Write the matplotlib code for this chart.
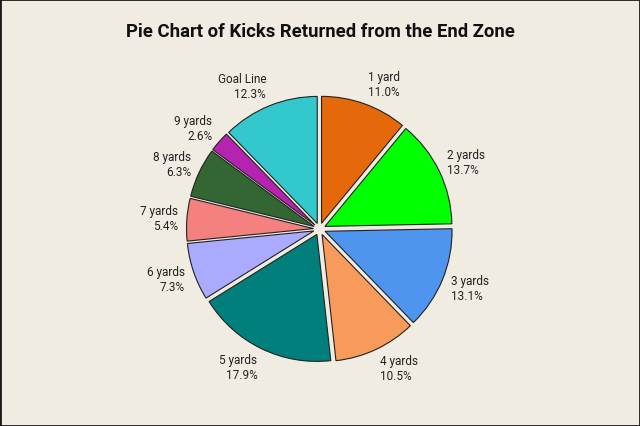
import numpy as np
import matplotlib.pyplot as plt
from matplotlib.patches import Rectangle

labels = ['1 yard', '2 yards', '3 yards', '4 yards', '5 yards',
          '6 yards', '7 yards', '8 yards', '9 yards', 'Goal Line']
pct = [11.0, 13.7, 13.1, 10.5, 17.9, 7.3, 5.4, 6.3, 2.6, 12.3]
colors = ['#E5680A', '#00FF00', '#4F94EF', '#F79A5C', '#007F7C',
          '#AAAAFF', '#F58080', '#336633', '#B523B0', '#33C8CC']

bg = '#F0ECE2'
fig = plt.figure(figsize=(6.4, 4.27), dpi=100, facecolor=bg)
ax = fig.add_axes([0, 0, 1, 1])
ax.set_aspect('equal')
ax.axis('off')

cx, cy, r = 319.5, 427 - 230, 127
# explode is in data units (pixels here)
wedges, _ = ax.pie(pct, colors=colors, startangle=90, counterclock=False,
                   center=(cx, cy), radius=r, explode=[6] * len(pct),
                   wedgeprops=dict(edgecolor='#222222', linewidth=0.8),
                   normalize=True)
ax.set_xlim(0, 640)
ax.set_ylim(0, 427)

for w, lab, p in zip(wedges, labels, pct):
    ang = np.deg2rad((w.theta1 + w.theta2) / 2)
    dx, dy = np.cos(ang), np.sin(ang)
    R = 142
    ax.annotate('{}\n{:.1f}%'.format(lab, p), xy=(cx + R * dx, cy + R * dy),
                xytext=(0, 8.6 * dy), textcoords='offset points',
                ha='left' if dx > 0 else 'right', va='center',
                fontsize=8.5, color='#222222', linespacing=1.2,
                family='Roboto')

fig.text(0.5, 1 - 36.7 / 427, 'Pie Chart of Kicks Returned from the End Zone',
         ha='center', va='baseline', fontsize=13.3, fontweight='bold',
         color='#111111', family='Roboto')

fig.patches.append(Rectangle((0, 0), 1, 1, transform=fig.transFigure,
                             fill=False, edgecolor='#1A1A1A', linewidth=2))

plt.savefig('out.png', dpi=100, facecolor=bg)
